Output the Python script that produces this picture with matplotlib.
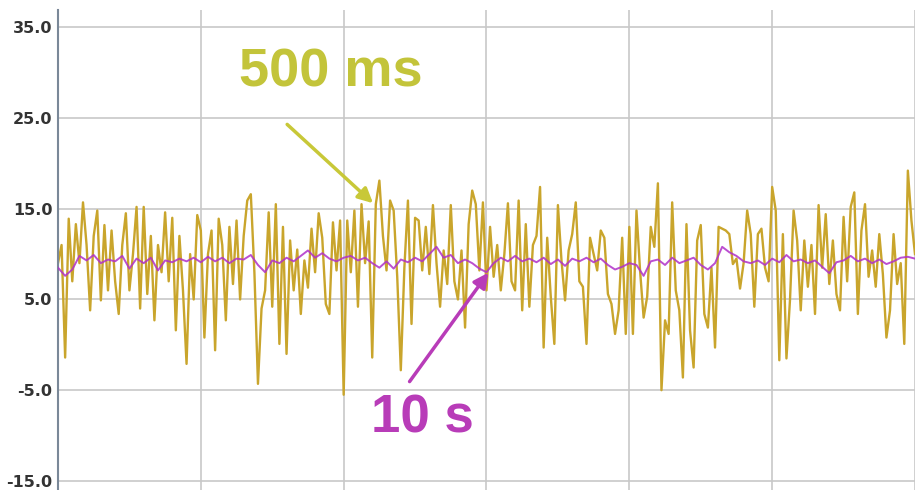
import matplotlib
matplotlib.use("Agg")
import matplotlib.pyplot as plt
import numpy as np

# Fast signal (500 ms), one value every x unit
fast_vals = [
    9, 11, -1.4, 13.9, 7, 13.3, 9, 15.7, 11, 3.8,
    12, 14.8, 4.9, 13.2, 6, 12.6, 7, 3.4, 11, 14.5,
    6, 10, 15.2, 4, 15.2, 5.6, 12, 2.7, 11, 8,
    14.6, 7, 14, 1.6, 12, 6, -2.1, 10, 5, 14.3,
    12.6, 0.8, 10, 12.6, -0.6, 13.9, 11, 2.7, 13, 6.7,
    13.7, 5, 12, 15.9, 16.6, 8, -4.3, 4, 6, 14.6,
    4.2, 15.5, 0.1, 13, -1, 11.5, 6, 10.5, 3.4, 9.3,
    6.3, 12.8, 8, 14.5, 11.8, 4.5, 3.4, 13.5, 8.2, 13.7,
    -5.5, 13.7, 8, 14.8, 4.2, 15.5, 9, 13.6, -1.4, 15.5,
    18.1, 12, 8.2, 15.9, 14.8, 7.5, -2.8, 8.5, 15.9, 2.3,
    14, 13.7, 8.2, 13, 7.8, 15.4, 9, 4.2, 10.4, 6.7,
    15.4, 7, 5, 10.4, 1.9, 13.3, 17, 15.5, 8.2, 15.7,
    6, 13, 7.5, 11, 6, 10, 15.6, 7, 6, 15.9,
    3.8, 13.3, 4.2, 11, 12, 17.4, -0.3, 11.8, 5.3, 0.1,
    15.4, 9.3, 4.9, 10.4, 12.2, 15.7, 7, 6.4, 0.1, 11.8,
    10, 8.2, 12.6, 11.8, 5.6, 4.5, 1.2, 3.8, 11.8, 1.2,
    13, 1.2, 14.8, 8.2, 3, 5.3, 13, 10.8, 17.8, -5,
    2.7, 1.2, 15.7, 6, 3.8, -3.6, 13.3, 1.6, -2.5, 11.5,
    13.2, 3.4, 1.9, 8.5, -0.3, 13, 12.8, 12.6, 12.2, 8.9,
    9.5, 6.2, 9, 14.8, 12.2, 4.2, 12.2, 12.8, 8.5, 7,
    17.4, 14.8, -1.7, 12.2, -1.5, 5, 14.8, 11.5, 3.8, 11.5,
    6.4, 11, 3.4, 15.4, 8.5, 14.4, 6.7, 11.5, 5.6, 3.8,
    14.1, 7, 15.2, 16.8, 3.4, 12.6, 15.5, 7.5, 10.4, 6.4,
    12.2, 7.8, 0.8, 3.8, 12.2, 6.7, 9, 0.1, 19.2, 13.7,
    10,
]
fast_x = np.arange(len(fast_vals))

# Slow signal (10 s), one value every 2 x units
slow_vals = [
    8.5, 7.6, 8.3, 9.8, 9.3, 9.9, 9.0, 9.4, 9.2, 9.8,
    8.4, 9.5, 9.0, 9.6, 8.2, 9.3, 9.1, 9.5, 9.2, 9.6,
    9.1, 9.7, 9.2, 9.6, 9.0, 9.5, 9.4, 9.9, 8.8, 8.0,
    9.3, 9.0, 9.6, 9.2, 9.8, 10.4, 9.6, 10.1, 9.5, 9.2,
    9.6, 9.8, 9.3, 9.6, 9.0, 8.5, 9.2, 8.4, 9.4, 9.1,
    9.6, 9.2, 10.0, 10.8, 9.6, 9.9, 9.0, 9.4, 9.0, 8.4,
    8.0, 9.0, 9.6, 9.2, 9.8, 9.2, 9.5, 9.1, 9.6, 8.9,
    9.4, 8.7, 9.5, 9.2, 9.6, 9.1, 9.5, 8.8, 8.3, 8.6,
    9.0, 8.8, 7.6, 9.2, 9.4, 8.8, 9.6, 9.0, 9.3, 9.6,
    8.8, 8.3, 9.0, 10.8, 10.2, 9.8, 9.2, 9.0, 9.3, 8.8,
    9.5, 9.1, 9.9, 9.2, 9.4, 9.0, 9.3, 8.6, 7.9, 9.1,
    9.3, 9.8, 9.2, 9.5, 9.0, 9.4, 8.9, 9.2, 9.6, 9.7,
    9.5,
]
slow_x = np.arange(len(slow_vals)) * 2

y_ticks = [-15, -5, 5, 15, 25, 35]
y_labels = ["-15.0", "-5.0", "5.0", "15.0", "25.0", "35.0"]
x_grid = [0, 40, 80, 120, 160, 200, 240]

fig = plt.figure(figsize=(9.17, 4.90), dpi=100)
ax = fig.add_axes([58 / 917, 0, 857 / 917, 480 / 490])

grid_col = "#c8c8c8"
for v in y_ticks:
    ax.axhline(v, color=grid_col, lw=1.2, zorder=0)
for v in x_grid:
    ax.axvline(v, color=grid_col, lw=1.2, zorder=0)

ax.plot(fast_x, fast_vals, color="#c9a52c", lw=1.7, zorder=2)
ax.plot(slow_x, slow_vals, color="#b030c8", lw=1.4, alpha=0.85, zorder=3)

ax.set_xlim(0, 240)
ax.set_ylim(-16.0, 36.9)
ax.set_yticks(y_ticks)
ax.set_yticklabels(y_labels, fontsize=11.5, fontweight="bold", color="#333333")
ax.set_xticks([])
ax.tick_params(axis="y", length=0, pad=4)

for s in ["top", "bottom", "right"]:
    ax.spines[s].set_visible(False)
ax.spines["left"].set_color("#7a8898")
ax.spines["left"].set_linewidth(1.5)

ax.annotate("", xy=(88.8, 15.4), xytext=(63.6, 24.5),
            arrowprops=dict(arrowstyle="-|>", color="#c8c838", lw=2.5, mutation_scale=22),
            zorder=5)
ax.text(76.5, 30.0, "500 ms", color="#c3c43a", fontsize=39, fontweight="bold",
        family="Liberation Sans", ha="center", va="center", zorder=5)

ax.annotate("", xy=(121, 8.2), xytext=(98, -4.3),
            arrowprops=dict(arrowstyle="-|>", color="#b83cb8", lw=2.5, mutation_scale=22),
            zorder=5)
ax.text(102, -8.1, "10 s", color="#b83cb8", fontsize=38, fontweight="bold",
        family="Liberation Sans", ha="center", va="center", zorder=5)

fig.savefig("out.png", dpi=100)
